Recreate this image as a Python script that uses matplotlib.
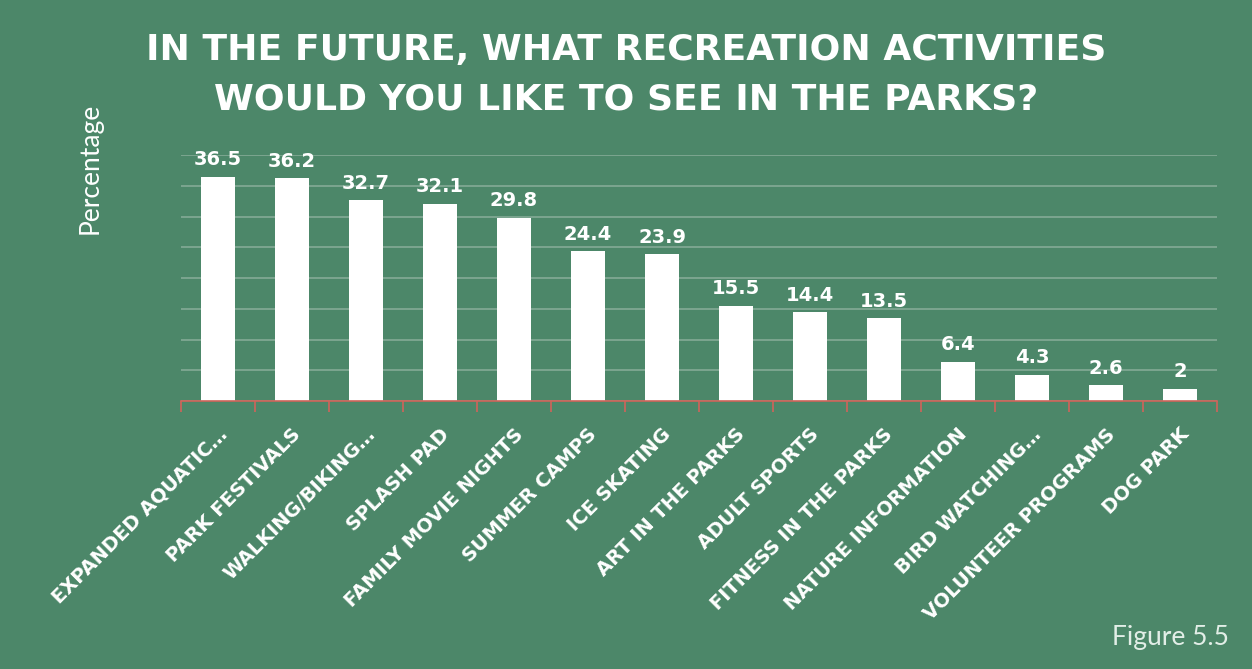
import numpy as np
import matplotlib.pyplot as plt
from matplotlib.ticker import MultipleLocator, FixedLocator
import matplotlib.transforms as mtransforms

# chart data
activities = ['EXPANDED AQUATIC…', 'PARK FESTIVALS', 'WALKING/BIKING…', 'SPLASH PAD',
              'FAMILY MOVIE NIGHTS', 'SUMMER CAMPS', 'ICE SKATING', 'ART IN THE PARKS',
              'ADULT SPORTS', 'FITNESS IN THE PARKS', 'NATURE INFORMATION', 'BIRD WATCHING…',
              'VOLUNTEER PROGRAMS', 'DOG PARK']
percent = [36.5, 36.2, 32.7, 32.1, 29.8, 24.4, 23.9, 15.5, 14.4, 13.5, 6.4, 4.3, 2.6, 2]
value_labels = ['36.5', '36.2', '32.7', '32.1', '29.8', '24.4', '23.9', '15.5', '14.4',
                '13.5', '6.4', '4.3', '2.6', '2']

bg = '#4c8769'
grid_col = '#80a893'
axis_col = '#d0645a'

fig = plt.figure(figsize=(12.52, 6.69), dpi=100, facecolor=bg)
ax = fig.add_axes([181 / 1252, 1 - 401 / 669, (1217 - 181) / 1252, (401 - 155) / 669])
ax.set_facecolor(bg)

x = np.arange(len(activities))
ax.bar(x, percent, width=0.45, color='white', zorder=3)
for xi, v, lab in zip(x, percent, value_labels):
    ax.text(xi, v + 1.2, lab, ha='center', va='bottom', color='white',
            fontsize=14, fontweight='bold', zorder=4)

ax.set_xlim(-0.5, len(activities) - 0.5)
ax.set_ylim(0, 40)
ax.yaxis.set_major_locator(MultipleLocator(5))
ax.grid(axis='y', color=grid_col, linewidth=1.3, zorder=0)
ax.tick_params(axis='y', left=False, labelleft=False)

for s in ['top', 'right', 'left']:
    ax.spines[s].set_visible(False)
ax.spines['bottom'].set_color(axis_col)
ax.spines['bottom'].set_linewidth(1.2)
ax.spines['bottom'].set_zorder(5)

# boundary ticks in red, labels at bar centres
ax.xaxis.set_minor_locator(FixedLocator(np.arange(-0.5, len(activities), 1)))
ax.tick_params(axis='x', which='minor', length=8, color=axis_col, width=1.2)
ax.set_xticks(x)
ax.set_xticklabels(activities, rotation=45, ha='right', va='center',
                   rotation_mode='anchor', color='white', fontsize=14, fontweight='bold')
ax.tick_params(axis='x', which='major', length=0, pad=22)
offset = mtransforms.ScaledTranslation(6 / 100, 0, fig.dpi_scale_trans)
for t in ax.get_xticklabels():
    t.set_transform(t.get_transform() + offset)

fig.text(626 / 1252, 1 - 50 / 669, 'IN THE FUTURE, WHAT RECREATION ACTIVITIES',
         ha='center', va='center', color='white', fontsize=26, fontweight='bold')
fig.text(626 / 1252, 1 - 100 / 669, 'WOULD YOU LIKE TO SEE IN THE PARKS?',
         ha='center', va='center', color='white', fontsize=26, fontweight='bold')

fig.text(90 / 1252, 1 - 168 / 669, 'Percentage', rotation=90, ha='center', va='center',
         color='white', fontsize=19, family='Lato')
fig.text(1229 / 1252, 1 - 638 / 669, 'Figure 5.5', ha='right', va='center',
         color='#e2eee7', fontsize=19, family='Lato')

fig.savefig('out.png', dpi=100, facecolor=bg)
